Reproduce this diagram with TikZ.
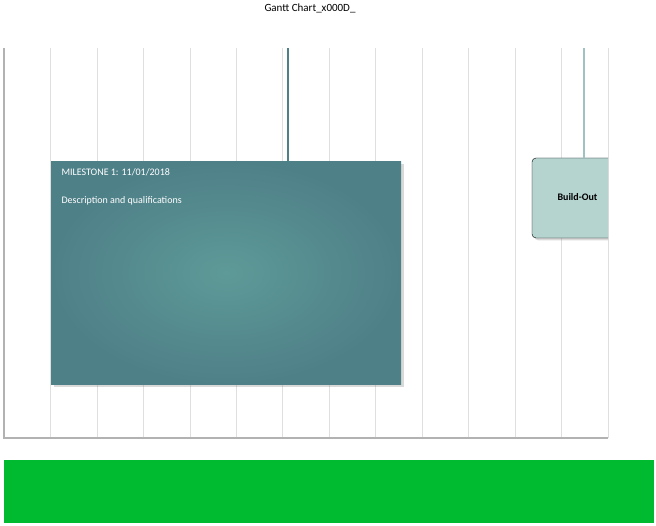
\documentclass[tikz,border=0pt]{standalone}
\usepackage{fontspec}
\setmainfont{Carlito}
\usetikzlibrary{positioning,shadows}
\definecolor{tealdark}{HTML}{4E8088}
\definecolor{teallight}{HTML}{5E9A98}
\definecolor{paleteal}{HTML}{B5D4D0}
\definecolor{bargreen}{HTML}{00BB30}
\tikzset{
  gridline/.style={gray!25,line width=0.8pt},
  axisline/.style={gray!60,line width=1.2pt},
  stem/.style={tealdark,line width=2pt},
  milebox/.style={inner sep=0pt,minimum width=350pt,minimum height=223pt,
    inner color=teallight,outer color=tealdark,drop shadow={opacity=0.3}},
  buildbox/.style={fill=paleteal,rounded corners=4pt,drop shadow={opacity=0.3}}
}
\begin{document}
\begin{tikzpicture}[x=1pt,y=-1pt]
\useasboundingbox (0,0) rectangle (656,526);

% Title
\node (title) at (310,8) {\fontsize{11}{13}\selectfont Gantt Chart\_x000D\_};

% Grid
\foreach \i in {1,...,13}
  \draw[gridline] (4+\i*46.48,48) -- (4+\i*46.48,438);
\draw[axisline] (4,48) -- (4,438) -- (608,438);

% Milestone
\node[milebox,anchor=north west] (mile) at (51,161) {};
\coordinate (miletop) at (288,48);
\draw[stem] (miletop) -- (miletop|-mile.north);
\node[anchor=north west,text=white,font=\fontsize{10}{12}\selectfont] (miletitle)
  at (58,165) {MILESTONE 1: 11/01/2018};
\node[anchor=north west,text=white,font=\fontsize{10}{12}\selectfont] (miledesc)
  at (58,193) {Description and qualifications};

% Build-out (cut at the chart edge)
\begin{scope}
  \clip (520,40) rectangle (608,260);
  \draw[buildbox] (532,158) rectangle (640,238);
  \node[anchor=west,font=\bfseries\fontsize{10}{12}\selectfont] (build) at (554,197) {Build-Out};
\end{scope}
\coordinate (buildtop) at (584,48);
\draw[stem,paleteal!80!tealdark] (buildtop) -- (584,158);

% Bar
\fill[bargreen] (4,460) rectangle (654,523);

\end{tikzpicture}
\end{document}
